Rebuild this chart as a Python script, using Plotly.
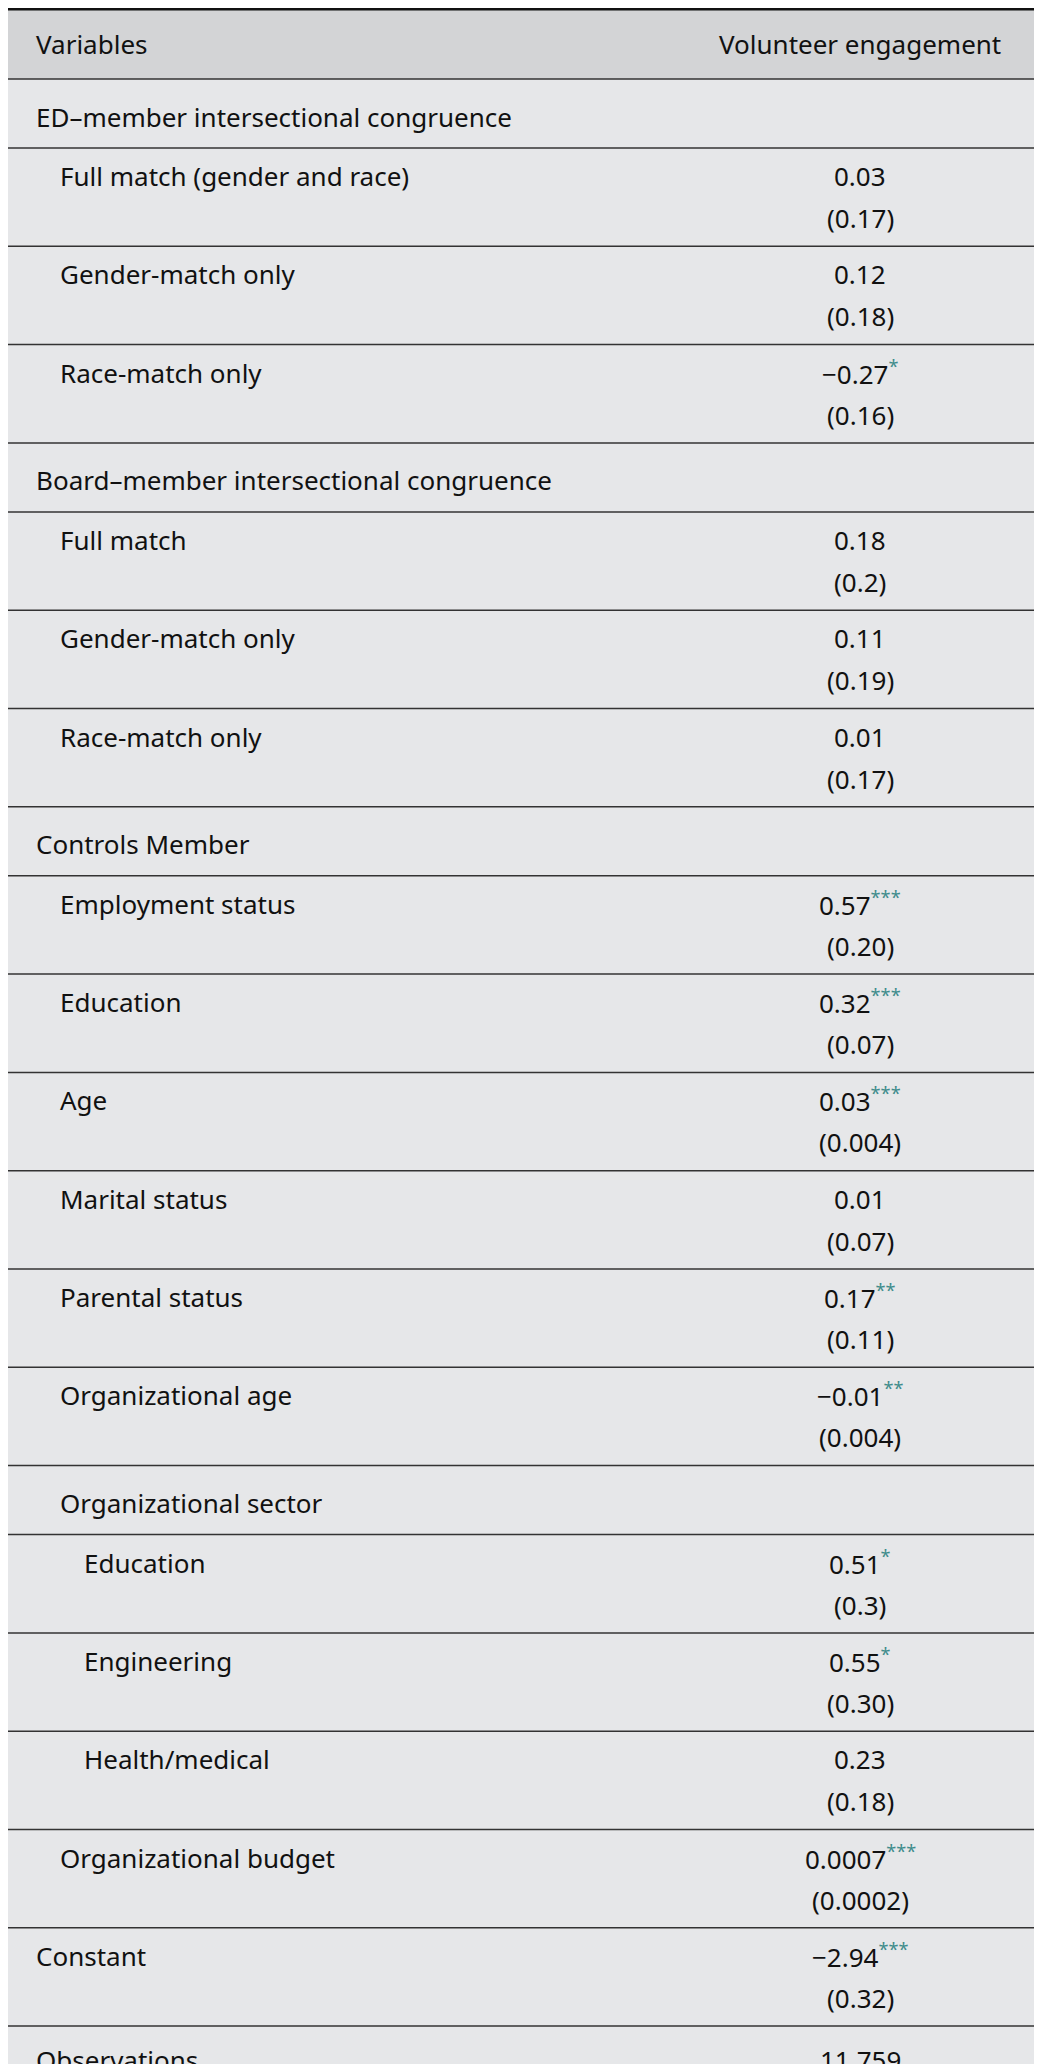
import plotly.graph_objects as go

# ── Datos de la tabla ─────────────────────────────────────────────────────────
labels = [
    "ED–member intersectional congruence",
    "Full match (gender and race)", "Gender-match only", "Race-match only",
    "Board–member intersectional congruence",
    "Full match", "Gender-match only", "Race-match only",
    "Controls Member",
    "Employment status", "Education", "Age", "Marital status", "Parental status",
    "Organizational age", "Organizational sector",
    "Education", "Engineering", "Health/medical",
    "Organizational budget", "Constant", "Observations",
]
levels = [0, 1, 1, 1, 0, 1, 1, 1, 0, 1, 1, 1, 1, 1, 1, 1, 2, 2, 2, 1, 0, 0]
coefs = ["", "0.03", "0.12", "−0.27", "", "0.18", "0.11", "0.01", "",
         "0.57", "0.32", "0.03", "0.01", "0.17", "−0.01", "",
         "0.51", "0.55", "0.23", "0.0007", "−2.94", "11,759"]
stars = ["", "", "", "*", "", "", "", "", "",
         "***", "***", "***", "", "**", "**", "",
         "*", "*", "", "***", "***", ""]
ses = ["", "(0.17)", "(0.18)", "(0.16)", "", "(0.2)", "(0.19)", "(0.17)", "",
       "(0.20)", "(0.07)", "(0.004)", "(0.07)", "(0.11)", "(0.004)", "",
       "(0.3)", "(0.30)", "(0.18)", "(0.0002)", "(0.32)", ""]

# ── Estilo ────────────────────────────────────────────────────────────────────
# la página tiene margen de 8 px: la figura ocupa 8..1034 x 8..2064
PAGE_W, PAGE_H, PAD = 1042, 2072, 8
W, H = PAGE_W - 2 * PAD, PAGE_H - 2 * PAD
FONT = "Noto Sans"
FS = 26
BG = "#e6e7e9"
HEAD_BG = "#d3d4d6"
STAR = "#3f8c8c"
TOP, HEAD_H = 9, 70
ONE_H, TWO_H, OBS_H = 69, 98.3, 62
INDENT = [34, 58, 82]
VAL_X = 860

shapes = [dict(type="rect", xref="x", yref="y", x0=0, x1=PAGE_W, y0=0, y1=PAGE_H,
               fillcolor=BG, line_width=0, layer="below"),
          dict(type="rect", xref="x", yref="y", x0=0, x1=PAGE_W, y0=TOP, y1=TOP + HEAD_H,
               fillcolor=HEAD_BG, line_width=0, layer="below")]
annotations = []


def text(x, y, s, anchor="left"):
    annotations.append(dict(x=x, y=y, xref="x", yref="y", text=s, showarrow=False,
                            xanchor=anchor, yanchor="middle",
                            font=dict(family=FONT, size=FS, color="#111")))


text(INDENT[0], TOP + HEAD_H / 2, "Variables")
text(VAL_X, TOP + HEAD_H / 2, "Volunteer engagement", "center")

y = TOP + HEAD_H
for lab, lev, c, st, se in zip(labels, levels, coefs, stars, ses):
    h = TWO_H if se else (OBS_H if lab == "Observations" else ONE_H)
    shapes.append(dict(type="line", xref="x", yref="y", x0=0, x1=PAGE_W, y0=y, y1=y,
                       line=dict(color="#333", width=1.5)))
    y1 = y + (28 if se else h / 2 + 3)
    text(INDENT[lev], y1, lab)
    if c:
        s = c
        if st:
            s += f"<sup><span style='color:{STAR}'>{st}</span></sup>"
        text(VAL_X, y1, s, "center")
    if se:
        text(VAL_X, y + 70, se, "center")
    y += h

shapes.append(dict(type="line", xref="x", yref="y", x0=0, x1=PAGE_W, y0=TOP, y1=TOP,
                   line=dict(color="#111", width=3)))
shapes.append(dict(type="line", xref="x", yref="y", x0=0, x1=PAGE_W, y0=y, y1=y,
                   line=dict(color="#111", width=3)))

fig = go.Figure()
fig.update_layout(
    width=W, height=H, margin=dict(l=0, r=0, t=0, b=0),
    paper_bgcolor=BG, plot_bgcolor=BG,
    xaxis=dict(range=[PAD, PAGE_W - PAD], visible=False, fixedrange=True),
    yaxis=dict(range=[PAGE_H - PAD, PAD], visible=False, fixedrange=True),
    shapes=shapes, annotations=annotations, showlegend=False,
)
fig.write_html("out.html")
